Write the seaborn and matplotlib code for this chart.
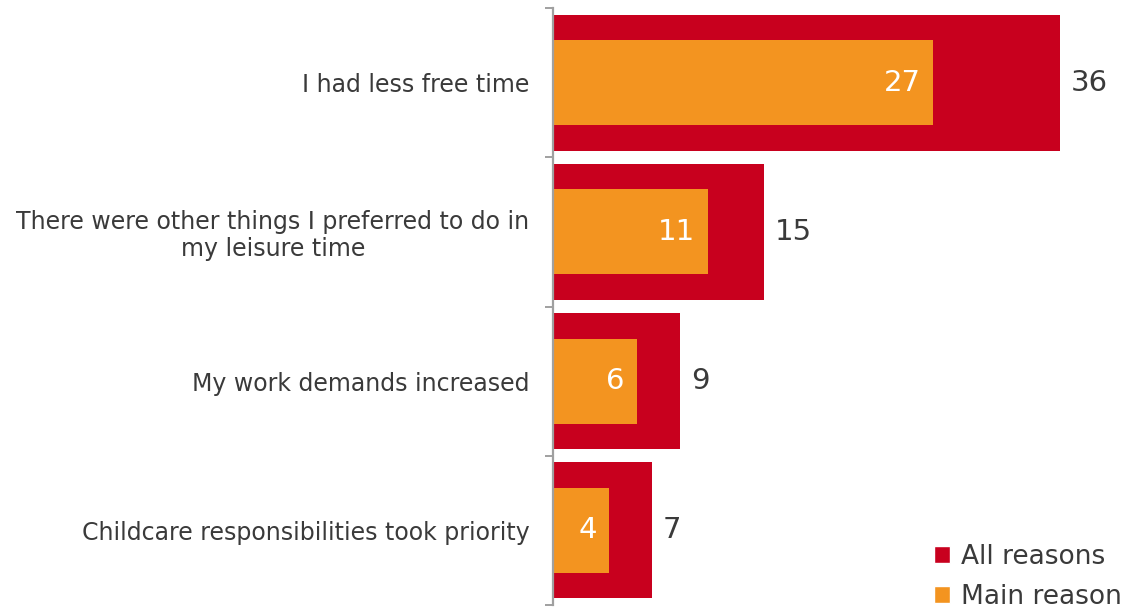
import matplotlib
matplotlib.use("Agg")
import matplotlib.pyplot as plt
from matplotlib.patches import Patch
from matplotlib.ticker import FixedLocator
import seaborn as sns
import pandas as pd

categories = [
    "I had less free time",
    "There were other things I preferred to do in\nmy leisure time",
    "My work demands increased",
    "Childcare responsibilities took priority",
]
all_reasons = [36, 15, 9, 7]
main_reason = [27, 11, 6, 4]

RED = "#C8001E"
ORANGE = "#F39420"
TEXT = "#3A3A3A"

df = pd.DataFrame({"reason": categories, "all": all_reasons, "main": main_reason})

sns.set_theme(style="white")
plt.rcParams["font.family"] = ["DejaVu Sans"]

fig = plt.figure(figsize=(11.3, 6.12), dpi=100)
ax = fig.add_axes([553 / 1130, 7 / 612, 1 - 553 / 1130, 597 / 612])

sns.barplot(data=df, y="reason", x="all", orient="h", color=RED,
            width=0.91, saturation=1, linewidth=0, ax=ax)
sns.barplot(data=df, y="reason", x="main", orient="h", color=ORANGE,
            width=0.57, saturation=1, linewidth=0, ax=ax)

outer = ax.containers[0]
inner = ax.containers[1]
ax.bar_label(outer, labels=[str(v) for v in all_reasons], padding=8,
             fontsize=21, color=TEXT)
inner_texts = ax.bar_label(inner, labels=[str(v) for v in main_reason],
                           padding=-9, fontsize=21, color="white")
for t in inner_texts:
    t.set_horizontalalignment("right")

ax.set_xlim(0, 41)
ax.set_ylim(3.5, -0.5)
ax.set_xlabel("")
ax.set_ylabel("")
ax.set_xticks([])

for side in ("top", "right", "bottom"):
    ax.spines[side].set_visible(False)
ax.spines["left"].set_color("#A0A0A0")
ax.spines["left"].set_linewidth(1.6)

ax.yaxis.set_minor_locator(FixedLocator([-0.5, 0.5, 1.5, 2.5, 3.5]))
ax.tick_params(axis="y", which="minor", left=True, length=6, width=1.4,
               color="#A0A0A0")
ax.tick_params(axis="y", which="major", left=False, length=0, pad=17,
               labelsize=17, labelcolor=TEXT)
for lbl in ax.get_yticklabels():
    lbl.set_multialignment("center")
    lbl.set_linespacing(1.15)

handles = [Patch(facecolor=RED, label="All reasons"),
           Patch(facecolor=ORANGE, label="Main reason")]
leg = ax.legend(handles=handles, loc="lower right", frameon=False,
                fontsize=19, handlelength=0.6, handleheight=0.6,
                handletextpad=0.4, labelspacing=0.55,
                bbox_to_anchor=(1.013, -0.035), borderaxespad=0.2)
for t in leg.get_texts():
    t.set_color(TEXT)

fig.savefig("out.png", dpi=100)
